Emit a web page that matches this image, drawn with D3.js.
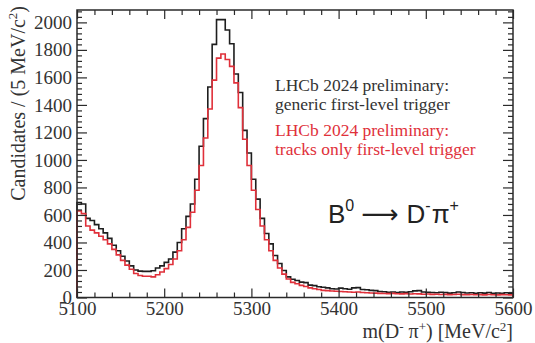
<!DOCTYPE html>
<html><head><meta charset="utf-8">
<script src="https://cdn.jsdelivr.net/npm/d3@7"></script>
<style>
body{margin:0;background:#fff;}
svg{display:block;}
</style></head>
<body>
<svg id="chart" width="535" height="343"></svg>
<script>
// ---- data ----
const binLowEdges = d3.range(100).map(i => 5100 + 5 * i); // 5 MeV bins
const genericTrigger = [
 690,680,575,560,530,500,470,430,380,340,
 300,265,230,200,192,190,190,195,215,230,
 255,280,330,400,500,590,680,860,1100,1300,
 1530,1840,2020,2020,1945,1845,1625,1490,1215,1050,
 860,715,575,465,390,305,247,196,150,133,
 124,112,108,90,86,78,74,70,64,62,
 68,64,60,70,72,58,56,52,50,44,
 42,38,40,36,40,38,42,48,50,40,
 38,36,34,38,36,32,35,40,36,33,
 35,30,34,32,36,30,33,31,35,32];
const tracksOnly = [
 630,610,520,490,470,445,420,390,350,310,
 270,235,205,175,160,155,155,150,165,185,
 210,240,280,340,420,510,620,780,960,1160,
 1370,1580,1740,1770,1730,1680,1560,1380,1150,960,
 780,640,520,420,340,270,215,170,135,110,
 100,88,80,70,64,58,52,50,47,45,
 44,42,40,38,40,36,34,33,32,30,
 29,28,30,27,26,28,25,27,26,24,
 25,23,24,22,23,21,22,24,21,20,
 22,20,21,19,22,20,19,21,20,19];
const xMajorTicks = [5100,5200,5300,5400,5500,5600];
const yMajorTicks = [0,200,400,600,800,1000,1200,1400,1600,1800,2000];
const legendLines = [
  ["LHCb 2024 preliminary:", "generic first-level trigger"],
  ["LHCb 2024 preliminary:", "tracks only first-level trigger"]
];

// ---- layout ----
const SERIF = '"Liberation Serif", "Times New Roman", Times, "DejaVu Serif", serif';
const SANS = '"Liberation Sans", Arial, "DejaVu Sans", sans-serif';
const svg = d3.select("#chart");
const L = 77, R = 513, T = 10, B = 297.5;
const x = d3.scaleLinear().domain([5100, 5600]).range([L, R]);
const y = d3.scaleLinear().domain([0, 2090]).range([B, T]);
const axisColor = "#2a2a2a";
const textColor = "#333";
const black = "#1e1e1e", red = "#e0303a";

// histograms
function histPoints(vals){
  const pts = [[5100, 0]];
  vals.forEach((v, i) => pts.push([binLowEdges[i], v]));
  pts.push([5600, vals[vals.length - 1]]);
  pts.push([5600, 0]);
  return pts;
}
const line = d3.line().x(d => x(d[0])).y(d => y(d[1])).curve(d3.curveStepAfter);
svg.append("path").attr("d", line(histPoints(genericTrigger)))
  .attr("fill","none").attr("stroke",black).attr("stroke-width",1.6);
svg.append("path").attr("d", line(histPoints(tracksOnly)))
  .attr("fill","none").attr("stroke",red).attr("stroke-width",1.6);

// axes (ticks inward)
const xMinor = d3.range(5100, 5601, 20).filter(v => v % 100 !== 0);
const yMinor = d3.range(0, 2090, 40).filter(v => v % 200 !== 0);

function styleAxis(g){
  g.attr("font-family", SERIF).attr("font-size", 19);
  g.select(".domain").remove();
  g.selectAll("line").attr("stroke", axisColor).attr("stroke-width", 1.2);
  g.selectAll("text").style("font-family", SERIF).style("font-size", "19px").attr("fill", textColor);
}
// bottom
svg.append("g").attr("transform",`translate(0,${B})`)
  .call(d3.axisBottom(x).tickValues(xMajorTicks).tickFormat(d3.format("d")).tickSizeInner(-9).tickSizeOuter(0).tickPadding(4))
  .call(styleAxis);
svg.append("g").attr("transform",`translate(0,${B})`)
  .call(d3.axisBottom(x).tickValues(xMinor).tickFormat("").tickSizeInner(-5).tickSizeOuter(0))
  .call(styleAxis);
// top
svg.append("g").attr("transform",`translate(0,${T})`)
  .call(d3.axisTop(x).tickValues(xMajorTicks).tickFormat("").tickSizeInner(-9).tickSizeOuter(0))
  .call(styleAxis);
svg.append("g").attr("transform",`translate(0,${T})`)
  .call(d3.axisTop(x).tickValues(xMinor).tickFormat("").tickSizeInner(-5).tickSizeOuter(0))
  .call(styleAxis);
// left
svg.append("g").attr("transform",`translate(${L},0)`)
  .call(d3.axisLeft(y).tickValues(yMajorTicks).tickFormat(d3.format("d")).tickSizeInner(-10).tickSizeOuter(0).tickPadding(5))
  .call(styleAxis);
svg.append("g").attr("transform",`translate(${L},0)`)
  .call(d3.axisLeft(y).tickValues(yMinor).tickFormat("").tickSizeInner(-5).tickSizeOuter(0))
  .call(styleAxis);
// right
svg.append("g").attr("transform",`translate(${R},0)`)
  .call(d3.axisRight(y).tickValues(yMajorTicks).tickFormat("").tickSizeInner(-10).tickSizeOuter(0))
  .call(styleAxis);
svg.append("g").attr("transform",`translate(${R},0)`)
  .call(d3.axisRight(y).tickValues(yMinor).tickFormat("").tickSizeInner(-5).tickSizeOuter(0))
  .call(styleAxis);

// frame
svg.append("rect").attr("x",L).attr("y",T).attr("width",R-L).attr("height",B-T)
  .attr("fill","none").attr("stroke",axisColor).attr("stroke-width",1.5);

// axis titles
const yt = svg.append("text").style("font-family",SERIF).style("font-size","20px").attr("fill",textColor)
  .attr("text-anchor","end").attr("transform",`translate(25,6) rotate(-90)`);
yt.append("tspan").text("Candidates / (5 MeV/c");
yt.append("tspan").style("font-size","13px").attr("dy",-8).text("2");
yt.append("tspan").attr("dy",8).text(")");

const xt = svg.append("text").style("font-family",SERIF).style("font-size","20px").attr("fill",textColor)
  .attr("text-anchor","end").attr("x",R).attr("y",338);
xt.append("tspan").text("m(D");
xt.append("tspan").style("font-size","13px").attr("dy",-7).text("-");
xt.append("tspan").attr("dy",7).text(" π");
xt.append("tspan").style("font-size","13px").attr("dy",-7).text("+");
xt.append("tspan").attr("dy",7).text(") [MeV/c");
xt.append("tspan").style("font-size","13px").attr("dy",-7).text("2");
xt.append("tspan").attr("dy",7).text("]");

// legend text
const legColors = [textColor, red];
const legY = [[91,110],[136,155]];
legendLines.forEach((lines, k) => {
  lines.forEach((s, j) => {
    svg.append("text").style("font-family",SERIF).style("font-size","17.5px").attr("fill",legColors[k])
      .attr("x",275).attr("y",legY[k][j]).text(s);
  });
});

// decay label
const dl = svg.append("text").style("font-family",SANS)
  .style("font-size","26px").attr("fill","#222").attr("x",328).attr("y",223);
dl.append("tspan").text("B");
dl.append("tspan").style("font-size","16px").attr("dy",-12).text("0");
dl.append("tspan").attr("dy",12).attr("dx",7).text("⟶");
dl.append("tspan").attr("dx",8).text("D");
dl.append("tspan").style("font-size","16px").attr("dy",-12).text("-");
dl.append("tspan").attr("dy",12).attr("dx",1).text("π");
dl.append("tspan").style("font-size","16px").attr("dy",-12).text("+");
</script>
</body></html>
